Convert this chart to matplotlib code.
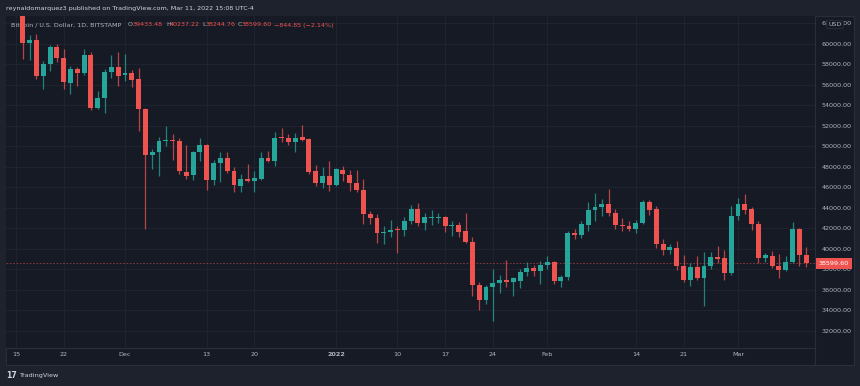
import matplotlib
matplotlib.use('Agg')
import matplotlib.pyplot as plt
import matplotlib.dates as mdates
import matplotlib.transforms as mtransforms
from matplotlib import font_manager
from matplotlib.patches import Rectangle
from matplotlib.lines import Line2D
import numpy as np
import pandas as pd

# daily BTC/USD candles, Bitstamp, 2021-11-16 .. 2022-03-11
start = '2021-11-16'
opens = [63580, 60070, 60390, 56890, 58080, 59740, 58640, 56230, 57600, 57140,
         58960, 53740, 54740, 57300, 57790, 56950, 57210, 56560, 53670, 49190,
         49420, 50490, 50620, 50490, 47540, 47180, 49420, 50100, 46690, 48380,
         48840, 47640, 46140, 46860, 46630, 46860, 48900, 48610, 50820, 50820,
         50390, 50880, 50720, 47630, 46430, 47080, 46210, 47730, 47240, 46430,
         45780, 43410, 43060, 41530, 41660, 41850, 41820, 42740, 43930, 42540,
         43040, 43030, 43090, 42210, 42380, 41730, 40690, 36470, 35040, 36270,
         36700, 37010, 36790, 36890, 37710, 38190, 37830, 38480, 38770, 36850,
         37280, 41590, 41400, 42380, 43840, 44070, 44420, 43510, 42380, 42250,
         41990, 42540, 44620, 43900, 40520, 39940, 40100, 38310, 37010, 38250,
         37170, 38310, 39260, 39130, 37670, 43190, 44420, 43900, 42470, 39100,
         39360, 38380, 37930, 38750, 41960, 39433.48]
highs = [63650, 60880, 60940, 58340, 59870, 60030, 59480, 57860, 57790, 59480,
         59250, 55420, 57540, 58900, 59250, 59060, 57440, 57690, 53800, 49780,
         50970, 52020, 51240, 50820, 50100, 49580, 50820, 50230, 48710, 49510,
         49510, 48000, 47340, 48320, 47570, 49420, 49580, 51370, 51850, 51210,
         51310, 52110, 50850, 48150, 47960, 48610, 47900, 48050, 47750, 47750,
         46820, 43740, 43420, 42280, 42800, 42210, 43130, 44320, 44490, 43510,
         43840, 43510, 43190, 42700, 42600, 43510, 41140, 36800, 36530, 38060,
         37510, 38970, 37300, 38060, 38750, 38480, 38800, 39290, 38870, 37440,
         41730, 41960, 42700, 44550, 45460, 44880, 45880, 43930, 43030, 42700,
         42800, 44810, 44810, 44160, 40980, 40530, 40820, 39450, 38650, 39290,
         39680, 39700, 40330, 39940, 44230, 44970, 45350, 44100, 42700, 39620,
         39780, 39550, 39360, 42600, 42050, 40237.22]
lows = [58570, 58410, 56570, 55650, 57370, 58250, 55650, 55100, 55910, 56950,
        53540, 53640, 53310, 56720, 55910, 56400, 55840, 51530, 41960, 47830,
        47080, 50070, 48710, 47340, 46850, 46760, 48610, 45720, 46270, 46530,
        47410, 45520, 45520, 46530, 45560, 46700, 48500, 48060, 50390, 50160,
        49450, 50550, 47340, 46100, 45950, 45690, 46110, 46590, 45690, 45520,
        42440, 42470, 40590, 40530, 41140, 39620, 41240, 42440, 42280, 41820,
        42380, 42540, 41630, 41300, 41180, 40590, 35400, 34030, 34590, 32960,
        35660, 36270, 35460, 36170, 37410, 37410, 36630, 38060, 36600, 36270,
        37010, 40980, 41080, 41730, 42700, 43190, 43250, 41990, 41730, 41800,
        41570, 42400, 43350, 40100, 39450, 39550, 37990, 36760, 36370, 37010,
        34400, 38000, 38650, 37010, 37500, 42870, 43420, 41820, 38650, 38700,
        38160, 37190, 37850, 38650, 38340, 38244.76]
closes = [60130, 60390, 56890, 58080, 59740, 58610, 56270, 57530, 57140, 58960,
          53740, 54740, 57300, 57790, 56890, 57210, 56490, 53670, 49160, 49450,
          50550, 50620, 50490, 47570, 47080, 49420, 50100, 46690, 48380, 48840,
          47640, 46210, 46860, 46630, 46900, 48900, 48610, 50820, 50790, 50390,
          50780, 50650, 47470, 46430, 47150, 46210, 47800, 47310, 46430, 45780,
          43410, 43030, 41530, 41660, 41900, 41820, 42770, 43930, 42540, 43090,
          43080, 43130, 42210, 42380, 41660, 40690, 36470, 35040, 36270, 36700,
          36990, 36760, 37210, 37770, 38190, 37900, 38480, 38720, 36850, 37280,
          41590, 41400, 42440, 43840, 44100, 44420, 43510, 42380, 42210, 41990,
          42540, 44550, 43840, 40490, 39940, 40160, 38310, 37010, 38250, 37170,
          38380, 39260, 39060, 37670, 43190, 44420, 43840, 42440, 39130, 39390,
          38380, 37990, 38750, 41960, 39390, 38599.60]

tick_dates = ['2021-11-15', '2021-11-22', '2021-12-01', '2021-12-13', '2021-12-20',
              '2022-01-01', '2022-01-10', '2022-01-17', '2022-01-24', '2022-02-01',
              '2022-02-14', '2022-02-21', '2022-03-01']
tick_labels = ['15', '22', 'Dec', '13', '20', '2022', '10', '17', '24', 'Feb', '14', '21', 'Mar']
price_ticks = list(range(32000, 62001, 2000))
last_price = 38599.60
header = 'reynaldomarquez3 published on TradingView.com, Mar 11, 2022 15:08 UTC-4'

OUTER = '#1e222d'
PANE = '#161a25'
BORDER = '#2a2e39'
GRID = '#1f2330'
TEXT = '#b2b5be'
UP = '#26a69a'
DOWN = '#ef5350'

names = {f.name for f in font_manager.fontManager.ttflist}
if 'Liberation Sans Narrow' in names:
    FONT, FS = 'Liberation Sans Narrow', 6.3
else:
    FONT, FS = 'DejaVu Sans', 4.6
plt.rcParams['font.family'] = [FONT, 'DejaVu Sans']

W, H = 860, 386
def fx(px): return px / W
def fy(py): return 1 - py / H

fig = plt.figure(figsize=(8.6, 3.86), dpi=100, facecolor=OUTER)
fig.patches.append(Rectangle((fx(5.5), fy(365)), fx(854) - fx(5.5), fy(16) - fy(365),
                             transform=fig.transFigure, fc=PANE, ec=BORDER, lw=0.8, zorder=-1))
fig.lines.append(Line2D([fx(815), fx(815)], [fy(348), fy(365)], transform=fig.transFigure,
                        color=BORDER, lw=0.8))

ax = fig.add_axes([fx(5.5), fy(348), fx(815) - fx(5.5), fy(16) - fy(348)])
ax.set_facecolor(PANE)

dates = pd.date_range(start, periods=len(closes), freq='D')
x = mdates.date2num(dates)
o = np.array(opens); c = np.array(closes)
up = c >= o
cols = np.where(up, UP, DOWN)
bottoms = np.minimum(o, c)
heights = np.maximum(np.abs(c - o), 90)

ax.vlines(x, lows, highs, colors=cols, lw=0.9, alpha=0.75, zorder=2)
ax.bar(x, heights, width=0.72, bottom=bottoms, color=cols, linewidth=0, zorder=3)

ax.axhline(last_price, color=DOWN, lw=0.6, ls=(0, (2, 2)), alpha=0.6, zorder=1.5)

x0 = mdates.date2num(pd.Timestamp('2021-11-15'))
ax.set_xlim(x0 - 1.54, x0 + 117.3)
ax.set_ylim(30340, 62730)

ax.set_xticks(mdates.date2num(pd.to_datetime(tick_dates)))
ax.set_xticklabels(tick_labels)
ax.xaxis.get_ticklabels()[5].set_fontweight('bold')
ax.yaxis.tick_right()
ax.set_yticks(price_ticks)
ax.set_yticklabels([f'{v:.2f}' for v in price_ticks])
ax.tick_params(axis='both', length=0, colors=TEXT, labelsize=FS)
ax.tick_params(axis='y', pad=5)
ax.tick_params(axis='x', pad=3)
ax.grid(True, color=GRID, lw=0.8)
ax.set_axisbelow(True)
for s in ['top', 'left']:
    ax.spines[s].set_visible(False)
for s in ['bottom', 'right']:
    ax.spines[s].set_color(BORDER)
    ax.spines[s].set_linewidth(0.8)

# last price label and currency box
tr = mtransforms.blended_transform_factory(ax.transAxes, ax.transData)
ax.text(1.0045, last_price, f'{last_price:.2f}', transform=tr, ha='left', va='center',
        color='white', fontsize=FS, clip_on=False, zorder=5,
        bbox=dict(boxstyle='square,pad=0.45', fc=DOWN, ec='none'))
fig.text(fx(835), fy(24.5), 'USD', ha='center', va='center', color=TEXT, fontsize=FS,
         bbox=dict(boxstyle='round,pad=0.25', fc=PANE, ec=BORDER, lw=0.7))

# header line and legend
fig.text(fx(6), fy(8.5), header, ha='left', va='center', color='#d1d4dc', fontsize=FS)
legend = [(11, 'Bitcoin / U.S. Dollar, 1D, BITSTAMP', TEXT), (128, 'O', TEXT), (133, '39433.48', DOWN),
          (166, 'H', TEXT), (170, '40237.22', DOWN), (202, 'L', TEXT), (206, '38244.76', DOWN),
          (238, 'C', TEXT), (242, '38599.60', DOWN), (274, '\u2212844.85 (\u22122.14%)', DOWN)]
for px, s, col in legend:
    ax.text(fx(px), fy(25), s, transform=fig.transFigure, ha='left', va='center',
            color=col, fontsize=FS, zorder=1.8)

fig.text(fx(6), fy(376), '17', ha='left', va='center', color='#d1d4dc', fontsize=FS + 1,
         fontweight='bold')
fig.text(fx(19), fy(376), 'TradingView', ha='left', va='center', color='#d1d4dc', fontsize=FS)

fig.savefig('out.png', dpi=100, facecolor=OUTER)
